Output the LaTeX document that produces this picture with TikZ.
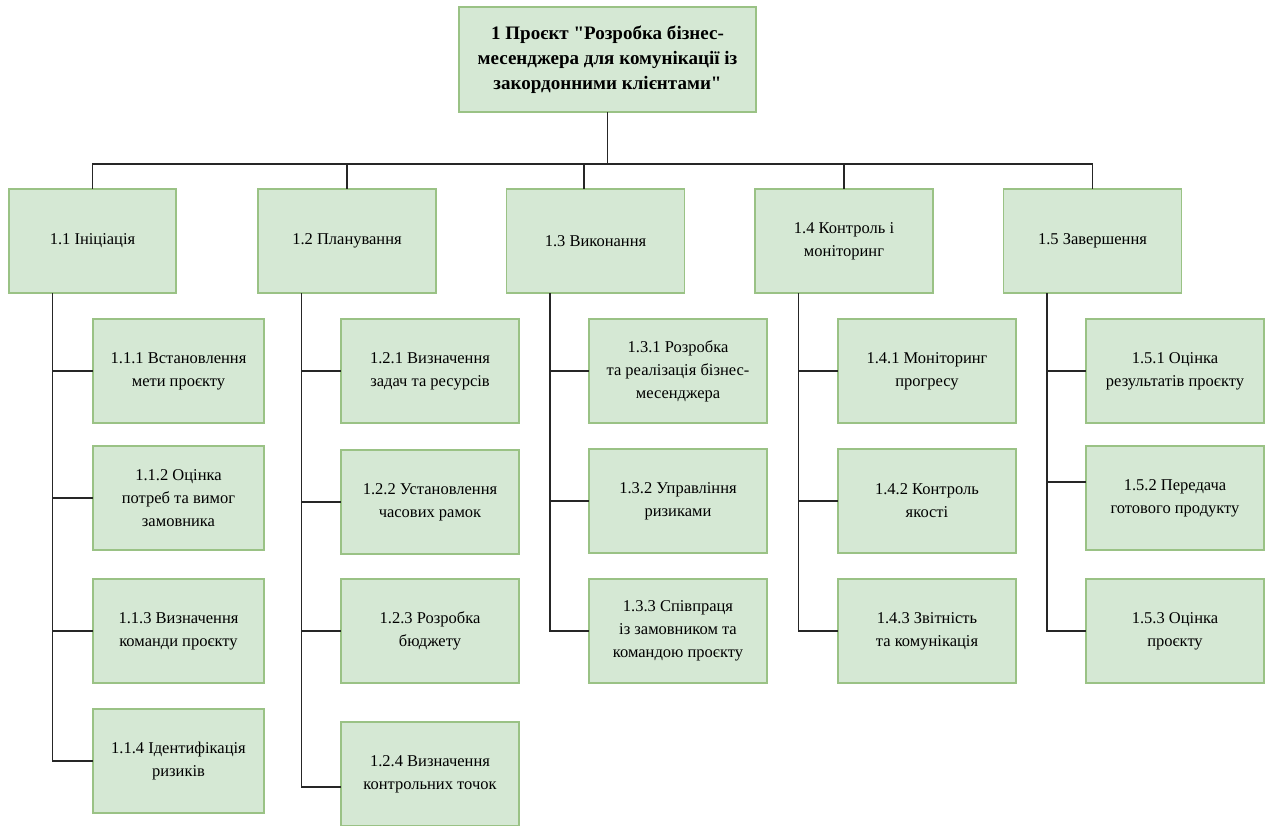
\documentclass[tikz,border=0pt]{standalone}
\usepackage{fontspec}
\setmainfont{Liberation Serif}[Scale=1.1]
% straight double quote, set as a glyph so the TeX ligature mapping leaves it alone
\newcommand\straightdq{\XeTeXglyph\XeTeXcharglyph"22\relax}
\begin{document}
\begin{tikzpicture}[x=1pt,y=-1pt,
  box/.style={draw=boxline,fill=boxfill,line width=1.2pt,inner sep=0pt,outer sep=0pt,
    align=center,minimum height=104pt,font=\fontsize{15}{23}\selectfont},
  wide/.style={box,minimum width=178pt},
  rootbox/.style={box,minimum width=297pt,minimum height=105pt,
    font=\fontsize{17.3}{25}\selectfont\bfseries},
  link/.style={draw=linecol,line width=1.4pt}]
\definecolor{boxfill}{HTML}{D5E8D4}
\definecolor{boxline}{HTML}{9AC285}
\definecolor{linecol}{HTML}{262626}
\useasboundingbox (0,0) rectangle (1273,825);

% project root
\node[rootbox] (root) at (607.5,59.5) {1 Проєкт \straightdq Розробка бізнес-\\месенджера для комунікації із\\закордонними клієнтами\straightdq};

% phases
\node[box,minimum width=167pt] (p1) at (92.5,241) {1.1 Ініціація};
\node[wide] (p2) at (347,241) {1.2 Планування};
\node[wide] (p3) at (595.5,241) {1.3 Виконання};
\node[wide] (p4) at (844,241) {1.4 Контроль і\\моніторинг};
\node[wide] (p5) at (1092.5,241) {1.5 Завершення};

% 1.1 work packages
\node[box,minimum width=171pt] (w11) at (178.5,371) {1.1.1 Встановлення\\мети проєкту};
\node[box,minimum width=171pt] (w12) at (178.5,498) {1.1.2 Оцінка\\потреб та вимог\\замовника};
\node[box,minimum width=171pt] (w13) at (178.5,631) {1.1.3 Визначення\\команди проєкту};
\node[box,minimum width=171pt] (w14) at (178.5,761) {1.1.4 Ідентифікація\\ризиків};

% 1.2 work packages
\node[wide] (w21) at (430,371) {1.2.1 Визначення\\задач та ресурсів};
\node[wide] (w22) at (430,502) {1.2.2 Установлення\\часових рамок};
\node[wide] (w23) at (430,631) {1.2.3 Розробка\\бюджету};
\node[wide] (w24) at (430,774) {1.2.4 Визначення\\контрольних точок};

% 1.3 work packages
\node[wide] (w31) at (678,371) {1.3.1 Розробка\\та реалізація бізнес-\\месенджера};
\node[wide] (w32) at (678,501) {1.3.2 Управління\\ризиками};
\node[wide] (w33) at (678,631) {1.3.3 Співпраця\\із замовником та\\командою проєкту};

% 1.4 work packages
\node[wide] (w41) at (927,371) {1.4.1 Моніторинг\\прогресу};
\node[wide] (w42) at (927,501) {1.4.2 Контроль\\якості};
\node[wide] (w43) at (927,631) {1.4.3 Звітність\\та комунікація};

% 1.5 work packages
\node[wide] (w51) at (1175,371) {1.5.1 Оцінка\\результатів проєкту};
\node[wide] (w52) at (1175,498) {1.5.2 Передача\\готового продукту};
\node[wide] (w53) at (1175,631) {1.5.3 Оцінка\\проєкту};

% root to phases
\foreach \p/\dx in {p1/0,p2/0,p3/-11.5,p4/0,p5/0}
  \draw[link] (root.south) -- ++(0,52) -| ([xshift=\dx pt]\p.north);

% phases to work packages (vertical spine plus horizontal stubs)
\foreach \p/\w in {p1/w11,p1/w12,p1/w13,p1/w14,
                   p2/w21,p2/w22,p2/w23,
                   p3/w31,p3/w32,p3/w33,
                   p4/w41,p4/w42,p4/w43,
                   p5/w51,p5/w53}
  \draw[link] ([xshift=43.5pt]\p.south west) |- (\w.west);
\draw[link] ([xshift=43.5pt]p2.south west) |- ([yshift=-13pt]w24.west);
\draw[link] ([xshift=43.5pt]p5.south west) |- ([yshift=16pt]w52.west);
\end{tikzpicture}
\end{document}
